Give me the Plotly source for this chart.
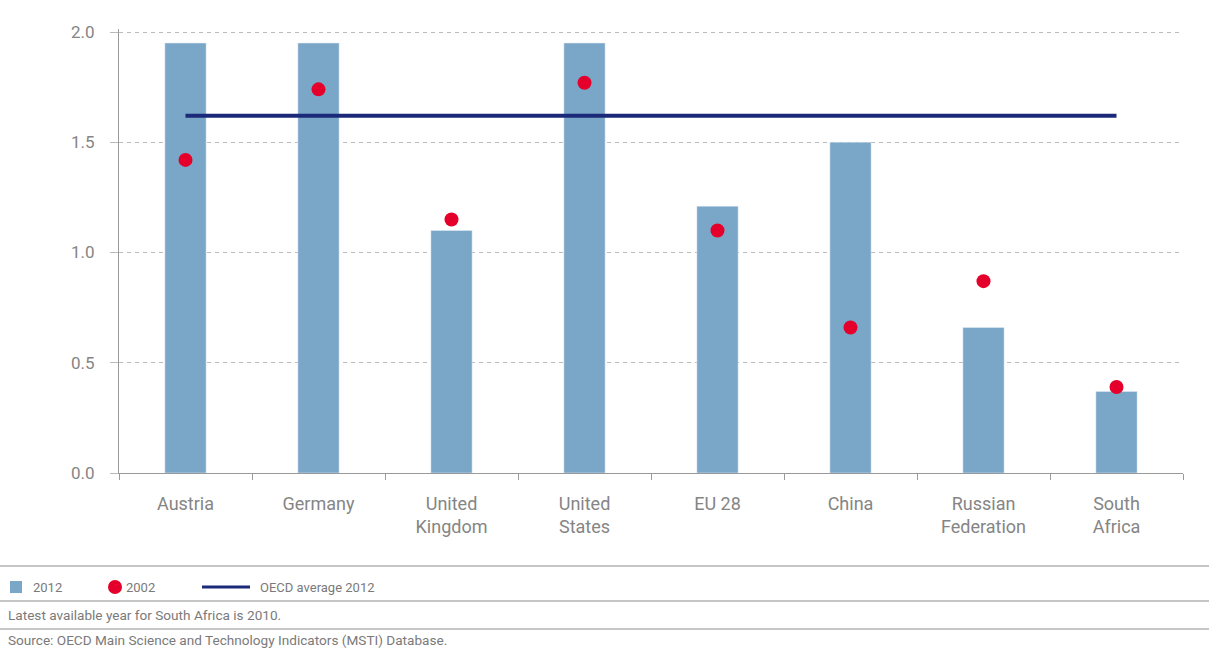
import plotly.graph_objects as go

categories = ["Austria", "Germany", "United<br>Kingdom", "United<br>States", "EU 28",
              "China", "Russian<br>Federation", "South<br>Africa"]
values_2012 = [1.95, 1.95, 1.10, 1.95, 1.21, 1.50, 0.66, 0.37]
values_2002 = [1.42, 1.74, 1.15, 1.77, 1.10, 0.66, 0.87, 0.39]
oecd_avg_2012 = 1.62
y_ticks = [0.0, 0.5, 1.0, 1.5, 2.0]

W, H = 1209, 650
L, R, T, B = 119, 1183, 29, 473   # plot area in pixels
Y_TOP = 2.0 + 3 / 220.5           # 2.0 sits at 32 px
BAR = "#7aa6c8"
RED = "#e4002b"
NAVY = "#1b2a78"
GRAY = "#858585"
FONT = "Roboto, Open Sans, sans-serif"

def px(x):
    return (x - L) / (R - L)

def py(y):
    return (B - y) / (B - T)

fig = go.Figure()
fig.add_trace(go.Bar(x=categories, y=values_2012, marker_color=BAR, width=0.31,
                     name="2012", showlegend=False))
fig.add_trace(go.Scatter(x=[categories[0], categories[-1]], y=[oecd_avg_2012] * 2,
                         mode="lines", line=dict(color=NAVY, width=4),
                         name="OECD average 2012", showlegend=False))
fig.add_trace(go.Scatter(x=categories, y=values_2002, mode="markers",
                         marker=dict(color=RED, size=14), name="2002", showlegend=False))

shapes = []
for yy in [566, 601, 629]:
    shapes.append(dict(type="line", xref="paper", yref="paper", x0=px(0), x1=px(W),
                       y0=py(yy), y1=py(yy), line=dict(color="#c6c6c6", width=2)))
shapes.append(dict(type="rect", xref="paper", yref="paper", x0=px(10), x1=px(22),
                   y0=py(593), y1=py(581), fillcolor=BAR, line=dict(width=0)))
shapes.append(dict(type="circle", xref="paper", yref="paper", x0=px(108), x1=px(122),
                   y0=py(594), y1=py(580), fillcolor=RED, line=dict(width=0)))
shapes.append(dict(type="line", xref="paper", yref="paper", x0=px(202), x1=px(250),
                   y0=py(587), y1=py(587), line=dict(color=NAVY, width=3)))

annotations = []
def txt(x, y, s, size=13, color="#7a7a7a"):
    annotations.append(dict(text=s, x=px(x), y=py(y), xref="paper", yref="paper",
                            xanchor="left", yanchor="middle", showarrow=False,
                            font=dict(family=FONT, size=size, color=color)))
txt(31, 587, "2012")
txt(124, 587, "2002")
txt(258, 587, "OECD average 2012")
txt(6, 615, "Latest available year for South Africa is 2010.", size=13.6)
txt(6, 640, "Source: OECD Main Science and Technology Indicators (MSTI) Database.", size=13.6)

fig.update_layout(
    width=W, height=H,
    margin=dict(l=L, r=W - R, t=T, b=H - B, pad=0, autoexpand=False),
    paper_bgcolor="white", plot_bgcolor="white",
    font=dict(family=FONT, color=GRAY),
    showlegend=False,
    shapes=shapes,
    annotations=annotations,
    xaxis=dict(type="category", tickson="boundaries",
               ticks="outside", ticklen=6, tickcolor="#9a9a9a",
               showline=True, linecolor="#9a9a9a", linewidth=1,
               showgrid=False, tickfont=dict(size=18, color=GRAY),
               ticklabelstandoff=14, range=[-0.5, 7.5]),
    yaxis=dict(range=[0, Y_TOP], tickvals=y_ticks,
               ticktext=[f"{v:.1f}" for v in y_ticks],
               showline=True, linecolor="#9a9a9a", linewidth=1,
               ticks="outside", ticklen=8, tickcolor="#b8b8b8",
               showgrid=True, gridcolor="#bcbcbc", griddash="4px,4px", gridwidth=1,
               zeroline=True, zerolinecolor="#9a9a9a", zerolinewidth=1,
               tickfont=dict(size=17, color=GRAY), ticklabelstandoff=12),
)

fig.write_html("out.html")
